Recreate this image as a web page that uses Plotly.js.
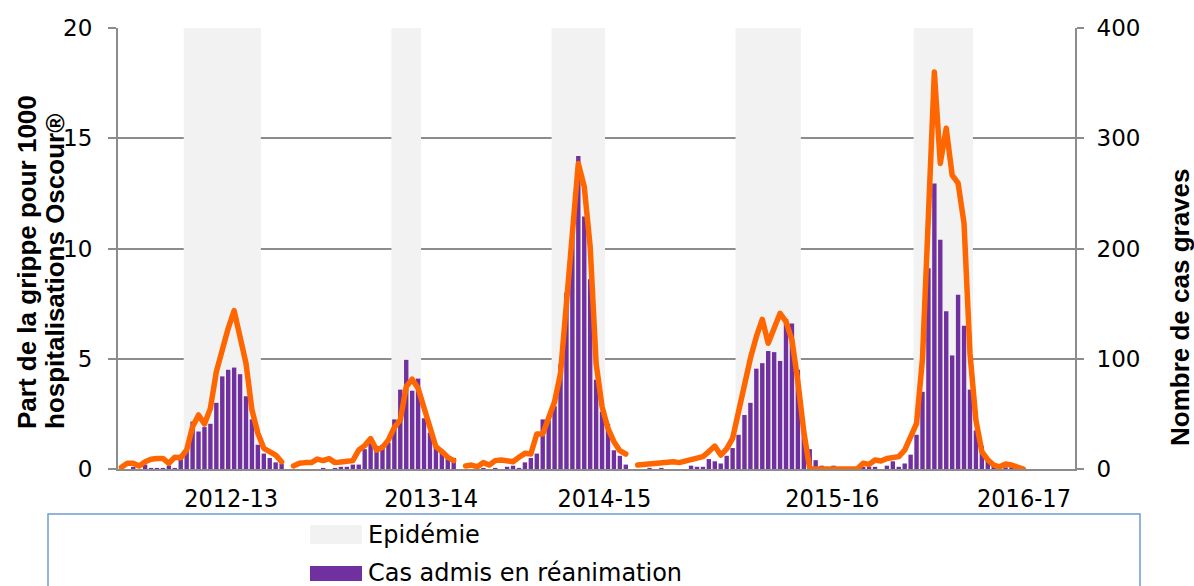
<!DOCTYPE html>
<html>
<head>
<meta charset="utf-8">
<script src="https://cdn.plot.ly/plotly-3.0.1.min.js"></script>
<style>
html,body{margin:0;padding:0;background:#fff;}
#chart{width:1194px;height:586px;}
#chart .scatterlayer .js-line{stroke-linejoin:round;stroke-linecap:round;}
</style>
</head>
<body>
<div id="chart"></div>
<script>
// ---------------- DATA ----------------
const seasons = ['2012-13', '2013-14', '2014-15', '2015-16', '2016-17'];

// Weekly number of severe cases admitted in intensive care (bars, right axis)
const cases1213 = [0, 0, 2, 0, 4, 1, 1, 1, 3, 1, 13, 18, 43, 34, 38, 41, 60, 84, 90, 92, 86, 66, 45, 22, 14, 10, 6, 5];
const cases1314 = [0, 0, 0, 0, 0, 1, 0, 1, 2, 2, 4, 4, 18, 24, 21, 22, 24, 45, 72, 99, 71, 82, 46, 33, 20, 16, 11, 10];
const cases1415 = [0, 0, 0, 1, 0, 1, 0, 2, 3, 1, 6, 10, 14, 45, 44, 57, 95, 160, 212, 284, 229, 172, 81, 52, 41, 17, 12, 4];
const cases1516 = [0, 0, 1, 0, 1, 0, 0, 0, 0, 3, 2, 2, 9, 7, 5, 12, 19, 31, 49, 60, 91, 96, 107, 106, 98, 136, 132, 90, 37, 18, 8, 3, 0, 3, 0, 0, 0, 0];
const cases1617 = [2, 2, 2, 0, 3, 7, 2, 5, 13, 31, 70, 182, 259, 208, 143, 103, 158, 130, 72, 35, 21, 9, 3, 2, 1.5, 1.5, 0, 0];

// Weekly share of influenza per 1000 Oscour® hospitalisations (line, left axis)
const share1213 = [0.08, 0.26, 0.26, 0.14, 0.33, 0.44, 0.48, 0.48, 0.26, 0.53, 0.51, 0.86, 1.92, 2.45, 2.04, 2.75, 4.41, 5.47, 6.38, 7.18, 5.85, 4.79, 2.68, 1.62, 0.94, 0.79, 0.63, 0.33];
const share1314 = [0.14, 0.26, 0.29, 0.29, 0.45, 0.38, 0.47, 0.29, 0.32, 0.33, 0.38, 0.86, 1.06, 1.38, 0.86, 0.98, 1.32, 1.89, 2.22, 3.73, 4.07, 3.66, 2.83, 2.0, 1.01, 0.79, 0.53, 0.38];
const share1415 = [0.14, 0.18, 0.1, 0.29, 0.18, 0.38, 0.41, 0.38, 0.33, 0.53, 0.71, 0.68, 1.59, 1.59, 2.30, 3.05, 4.34, 7.51, 11.14, 13.86, 12.8, 10.08, 4.79, 2.83, 1.84, 1.24, 0.83, 0.68];
const share1516 = [0.18, 0.21, 0.21, 0.26, 0.30, 0.29, 0.33, 0.29, 0.35, 0.41, 0.48, 0.56, 0.79, 1.04, 0.63, 0.91, 1.39, 2.68, 3.89, 5.02, 6.0, 6.79, 5.70, 6.45, 7.06, 6.68, 5.85, 3.96, 1.69, 0, 0, 0, 0, 0, 0, 0, 0, 0];
const share1617 = [0.26, 0.21, 0.41, 0.36, 0.48, 0.51, 0.56, 0.86, 1.47, 2.07, 5.0, 11.0, 18.0, 13.86, 15.45, 13.33, 12.96, 11.14, 5.25, 2.22, 0.79, 0.41, 0.18, 0.1, 0.23, 0.18, 0.08, 0.0];

// Week index (on the weekly x axis) of the first week of each season
const seasonFirstWeek = [0, 29, 58, 87, 125];
// Epidemic periods: first and last week index
const epiFirstWeek = [11, 46, 73, 104, 134];
const epiLastWeek = [23, 50, 81, 114, 143];
// Where each season label sits on the weekly axis
const seasonLabelWeek = [18.5, 52.2, 81.4, 119.8, 152.1];

// -------------- BUILD SERIES --------------
const casesBySeason = [cases1213, cases1314, cases1415, cases1516, cases1617];
const shareBySeason = [share1213, share1314, share1415, share1516, share1617];

const barX = [], barY = [], lineX = [], lineY = [];
casesBySeason.forEach((arr, s) => {
  arr.forEach((v, i) => { barX.push(seasonFirstWeek[s] + i); barY.push(v); });
});
shareBySeason.forEach((arr, s) => {
  arr.forEach((v, i) => { lineX.push(seasonFirstWeek[s] + i); lineY.push(v); });
  const endW = seasonFirstWeek[s] + arr.length - 1;
  if (s < shareBySeason.length - 1 && seasonFirstWeek[s + 1] > endW + 1) {
    lineX.push(endW + 1); lineY.push(null);
  }
});
const epiX = epiFirstWeek.map((f, i) => (f + epiLastWeek[i]) / 2);
const epiW = epiFirstWeek.map((f, i) => epiLastWeek[i] - f + 1);
const epiY = epiFirstWeek.map(() => 400);

// -------------- GEOMETRY HELPERS --------------
const PL = 118, PR = 1075, PT = 28, PB = 469;
const px = v => (v - PL) / (PR - PL);
const py = v => (PB - v) / (PB - PT);

const grey = '#8c8c8c';
const tickFont = {family: 'DejaVu Sans, Arial, sans-serif', size: 23, color: '#000'};
const titleFont = {family: 'Liberation Sans, Arial, sans-serif', size: 26, color: '#000', weight: 700};

const traces = [
  {
    type: 'bar', name: 'Epidémie', x: epiX, y: epiY, width: epiW,
    yaxis: 'y', marker: {color: '#f2f2f2', line: {width: 0}},
    hoverinfo: 'skip', showlegend: false
  },
  {
    type: 'bar', name: 'Cas admis en réanimation', x: barX, y: barY, width: 0.74,
    yaxis: 'y', marker: {color: '#7030a0', line: {width: 0}},
    showlegend: false
  },
  {
    type: 'scatter', mode: 'lines', name: 'Part de la grippe pour 1000 hospitalisations Oscour®',
    x: lineX, y: lineY, yaxis: 'y2', connectgaps: false, cliponaxis: false,
    line: {color: '#ff6600', width: 5.5}, showlegend: false
  }
];

const layout = {
  width: 1194, height: 586,
  margin: {l: PL, r: 1194 - PR, t: PT, b: 586 - PB, pad: 0},
  paper_bgcolor: '#fff', plot_bgcolor: '#fff',
  barmode: 'overlay',
  showlegend: false,
  xaxis: {
    range: [-0.57, 160.7], showgrid: false, zeroline: false,
    showline: true, linecolor: grey, linewidth: 2,
    ticks: '', tickmode: 'array', tickvals: seasonLabelWeek, ticktext: seasons,
    tickfont: {family: 'DejaVu Sans Condensed, DejaVu Sans, sans-serif', size: 25, color: '#000'},
    ticklabelstandoff: 6, fixedrange: true
  },
  yaxis: {
    side: 'right', range: [0, 400], tickmode: 'linear', tick0: 0, dtick: 100,
    showgrid: true, gridcolor: grey, gridwidth: 2, zeroline: false,
    showline: true, linecolor: grey, linewidth: 2,
    ticks: 'outside', ticklen: 7, tickwidth: 2, tickcolor: grey,
    tickfont: tickFont, ticklabelstandoff: 8
  },
  yaxis2: {
    side: 'left', overlaying: 'y', range: [0, 20], tickmode: 'linear', tick0: 0, dtick: 5,
    showgrid: false, zeroline: false,
    showline: true, linecolor: grey, linewidth: 2,
    ticks: 'outside', ticklen: 8, tickwidth: 2, tickcolor: grey,
    tickfont: tickFont, ticklabelstandoff: 11
  },
  shapes: [
    {type: 'rect', xref: 'paper', yref: 'paper', x0: px(48), x1: px(1140), y0: py(620), y1: py(514),
     line: {color: '#6f9bd1', width: 1.5}, fillcolor: 'rgba(0,0,0,0)', layer: 'above'},
    {type: 'rect', xref: 'paper', yref: 'paper', x0: px(310), x1: px(362), y0: py(544), y1: py(525),
     line: {width: 0}, fillcolor: '#f2f2f2', layer: 'above'},
    {type: 'rect', xref: 'paper', yref: 'paper', x0: px(310), x1: px(362), y0: py(581), y1: py(566),
     line: {width: 0}, fillcolor: '#7030a0', layer: 'above'}
  ],
  annotations: [
    {text: 'Part de la grippe pour 1000', textangle: -90, xref: 'paper', yref: 'paper',
     x: px(27), y: py(262), xanchor: 'center', yanchor: 'middle', showarrow: false, font: titleFont},
    {text: 'hospitalisations Oscour®', textangle: -90, xref: 'paper', yref: 'paper',
     x: px(55), y: py(272), xanchor: 'center', yanchor: 'middle', showarrow: false, font: titleFont},
    {text: 'Nombre de cas graves', textangle: -90, xref: 'paper', yref: 'paper',
     x: px(1180), y: py(308), xanchor: 'center', yanchor: 'middle', showarrow: false, font: titleFont},
    {text: 'Epidémie', xref: 'paper', yref: 'paper', x: px(366), y: py(535),
     xanchor: 'left', yanchor: 'middle', showarrow: false,
     font: {family: 'DejaVu Sans, Arial, sans-serif', size: 24, color: '#000'}},
    {text: 'Cas admis en réanimation', xref: 'paper', yref: 'paper', x: px(366), y: py(573),
     xanchor: 'left', yanchor: 'middle', showarrow: false,
     font: {family: 'DejaVu Sans, Arial, sans-serif', size: 24, color: '#000'}}
  ]
};

Plotly.newPlot('chart', traces, layout, {displayModeBar: false, staticPlot: true});
</script>
</body>
</html>
